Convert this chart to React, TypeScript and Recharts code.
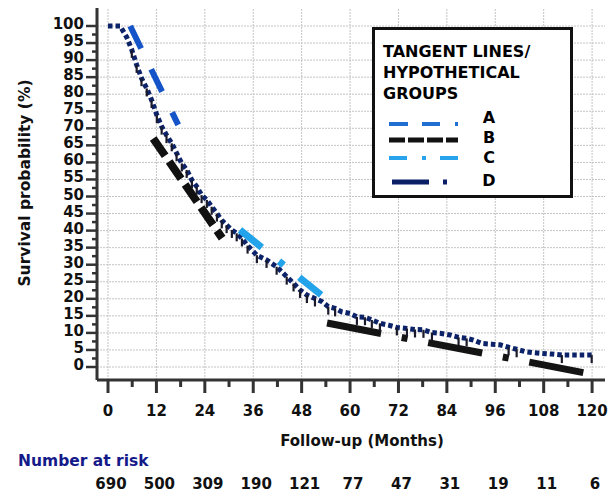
import React from 'react'
import { LineChart, Line, XAxis, YAxis, ReferenceLine } from 'recharts'

const FONT = '"DejaVu Sans", "Liberation Sans", sans-serif'

// Kaplan-Meier curve
const kmMonths = [0, 3, 4.6, 5.9, 7.1, 8.3, 9.6, 10.8, 12.1, 13.3, 14.5, 15.8, 17, 18.3, 19.5, 20.8, 22, 23.2, 24.5, 25.7, 27, 28.2, 29.4, 30.7, 31.9, 33.2, 34.6, 36.9, 39.3, 41.8, 44.3, 46, 47.6, 49.3, 51.3, 53, 54.6, 56.3, 57.9, 60, 61.7, 63.7, 65.4, 67.4, 69.5, 71.6, 74.1, 76.1, 78.2, 80.3, 82.3, 84.8, 86.9, 88.9, 90.6, 92.7, 95.1, 97.2, 99.3, 101.3, 103.4, 105.5, 107.5, 110, 112.5, 114.6, 117, 119.9]
const kmSurvival = [100, 100, 96.8, 93, 88.6, 84.7, 81.7, 78.3, 73.9, 70.5, 68, 65.6, 62.7, 59.7, 57.8, 54.8, 52.9, 50.4, 49, 47, 45, 43, 41.6, 40.2, 39.2, 37.7, 35.6, 32.8, 31.4, 29.4, 26.5, 24.5, 22.6, 21.1, 20.1, 19.2, 17.7, 17.2, 16.2, 15.7, 14.7, 14.6, 13.8, 12.8, 12.3, 11.6, 11.3, 11, 10.9, 10.1, 9.9, 9.4, 8.7, 8.4, 7.9, 6.9, 6.7, 6.5, 5.8, 5.2, 4.5, 4.2, 4, 3.8, 3.5, 3.5, 3.5, 3.5]
// 1 = censoring tick under the point
const kmCensored = [0, 0, 0, 1, 1, 1, 1, 1, 1, 1, 1, 1, 1, 1, 1, 1, 1, 1, 1, 1, 1, 1, 1, 1, 1, 1, 1, 1, 1, 1, 1, 1, 1, 1, 1, 0, 1, 1, 0, 0, 1, 1, 1, 1, 0, 1, 1, 1, 1, 1, 0, 0, 1, 1, 0, 0, 0, 0, 1, 1, 0, 0, 0, 0, 1, 0, 0, 1]

// tangent lines (start / end)
const tangentA = [{ m: 5.5, s: 100 }, { m: 17.4, s: 71 }]
const tangentB = [{ m: 11.2, s: 67 }, { m: 28.3, s: 37.8 }]
const tangentC = [{ m: 32.7, s: 40.2 }, { m: 53, s: 21 }]
const tangentD = [{ m: 54.3, s: 12.9 }, { m: 118.5, s: -1.8 }]

const xMajorTicks = [0, 12, 24, 36, 48, 60, 72, 84, 96, 108, 120]
const xMinorTicks = [6, 18, 30, 42, 54, 66, 78, 90, 102, 114]
const yMajorTicks = [0, 5, 10, 15, 20, 25, 30, 35, 40, 45, 50, 55, 60, 65, 70, 75, 80, 85, 90, 95, 100]
const yMinorTicks = [2.5, 7.5, 12.5, 17.5, 22.5, 27.5, 32.5, 37.5, 42.5, 47.5, 52.5, 57.5, 62.5, 67.5, 72.5, 77.5, 82.5, 87.5, 92.5, 97.5]
const riskCounts = [690, 500, 309, 190, 121, 77, 47, 31, 19, 11, 6]

const kmData = kmMonths.map((m, i) => ({ m, s: kmSurvival[i], c: kmCensored[i] }))
const xTicks = [...xMajorTicks, ...xMinorTicks].sort((a, b) => a - b)
const yTicks = [...yMajorTicks, ...yMinorTicks].sort((a, b) => a - b)

const AXIS = '#333'
const textStyle = { fontFamily: FONT, fontWeight: 'bold' as const, fontSize: 15, fill: '#111' }

function XTick({ x, y, payload }: any) {
  const v = payload.value
  const i = xMajorTicks.indexOf(v)
  const major = i >= 0
  return (
    <g>
      <line x1={x} x2={x} y1={y} y2={y + (major ? 13 : 7)} stroke={AXIS} strokeWidth={3} />
      {major && <text x={x} y={y + 36} textAnchor="middle" {...textStyle}>{v}</text>}
      {major && <text x={x + 3} y={y + 109} textAnchor="middle" {...textStyle}>{riskCounts[i]}</text>}
    </g>
  )
}

function YTick({ x, y, payload }: any) {
  const v = payload.value
  const major = yMajorTicks.includes(v)
  return (
    <g>
      <line x1={x} x2={x - (major ? 11 : 5)} y1={y} y2={y} stroke={AXIS} strokeWidth={2.5} />
      {major && <text x={x - 13} y={y + 3} textAnchor="end" {...textStyle}>{v}</text>}
    </g>
  )
}

function CensorDot({ cx, cy, payload, index }: any) {
  if (!payload.c) return <g key={index} />
  return <line key={index} x1={cx} x2={cx} y1={cy} y2={cy + 8} stroke="#1a1a2a" strokeWidth={2.2} />
}

function Legend() {
  const t = { fontFamily: FONT, fontWeight: 'bold' as const, fill: '#000' }
  return (
    <svg width={201} height={171} style={{ position: 'absolute', left: 372, top: 27 }}>
      <rect x={1.5} y={1.5} width={198} height={168} fill="#fff" stroke="#111" strokeWidth={3} />
      <text x={11} y={30} fontSize={16} {...t}>TANGENT LINES/</text>
      <text x={11} y={51} fontSize={16} {...t}>HYPOTHETICAL</text>
      <text x={11} y={72} fontSize={16} {...t}>GROUPS</text>
      <line x1={17} x2={86} y1={97} y2={97} stroke="#1f6fd0" strokeWidth={4} strokeDasharray="19 14 18 15 3 40" />
      <line x1={17} x2={86} y1={113} y2={113} stroke="#111" strokeWidth={5} strokeDasharray="16 3" />
      <line x1={17} x2={86} y1={131} y2={131} stroke="#29a3ec" strokeWidth={4} strokeDasharray="18 15 4 14 18 40" />
      <line x1={20} x2={76} y1={155} y2={155} stroke="#0b1f66" strokeWidth={5} strokeDasharray="37 14 4 40" />
      <text x={117} y={96} fontSize={16} textAnchor="middle" {...t}>A</text>
      <text x={117} y={116} fontSize={16} textAnchor="middle" {...t}>B</text>
      <text x={117} y={136} fontSize={16} textAnchor="middle" {...t}>C</text>
      <text x={117} y={159} fontSize={16} textAnchor="middle" {...t}>D</text>
    </svg>
  )
}

export default function App() {
  return (
    <div style={{ position: 'absolute', left: 0, top: 0, width: 613, height: 495, background: '#fff' }}>
      <LineChart width={613} height={495} margin={{ top: 8, right: 8, bottom: 0, left: 0 }}>
        <XAxis
          dataKey="m"
          type="number"
          domain={[-2.73, 123.2]}
          allowDataOverflow
          ticks={xTicks}
          interval={0}
          tick={<XTick />}
          tickLine={false}
          tickSize={0}
          tickMargin={0}
          height={115}
          axisLine={{ stroke: AXIS, strokeWidth: 3 }}
          label={({ viewBox }: any) => (
            <text x={viewBox.x + viewBox.width / 2 + 11} y={viewBox.y + 66} textAnchor="middle" {...textStyle}>
              Follow-up (Months)
            </text>
          )}
        />
        <YAxis
          type="number"
          domain={[-3.81, 105.28]}
          allowDataOverflow
          ticks={yTicks}
          interval={0}
          tick={<YTick />}
          tickLine={false}
          tickSize={0}
          tickMargin={0}
          width={97}
          axisLine={{ stroke: AXIS, strokeWidth: 3 }}
          label={({ viewBox }: any) => {
            const cx = 30
            const cy = viewBox.y + viewBox.height / 2 - 11
            return (
              <text x={cx} y={cy} transform={`rotate(-90 ${cx} ${cy})`} textAnchor="middle" {...textStyle} fontSize={15.5}>
                Survival probability (%)
              </text>
            )
          }}
        />

        {/* dotted grid */}
        {xMajorTicks.map(v => (
          <ReferenceLine key={'gx' + v} x={v} stroke="#c4c4c4" strokeDasharray="2 1" />
        ))}
        {yMajorTicks.map(v => (
          <ReferenceLine key={'gy' + v} y={v} stroke="#c4c4c4" strokeDasharray="2 1" />
        ))}

        <Line data={kmData} dataKey="s" stroke="#0c2369" strokeWidth={5} strokeDasharray="4.5 3"
          dot={CensorDot} activeDot={false} isAnimationActive={false} />

        <Line data={tangentA} dataKey="s" stroke="#1554c8" strokeWidth={6} strokeDasharray="25 23"
          dot={false} activeDot={false} isAnimationActive={false} />
        <Line data={tangentB} dataKey="s" stroke="#111" strokeWidth={8} strokeDasharray="21 7"
          dot={false} activeDot={false} isAnimationActive={false} />
        <Line data={tangentC} dataKey="s" stroke="#22a3ea" strokeWidth={7} strokeDasharray="28 22 6 20"
          dot={false} activeDot={false} isAnimationActive={false} />
        <Line data={tangentD} dataKey="s" stroke="#141414" strokeWidth={7} strokeDasharray="55 21 6 21"
          dot={false} activeDot={false} isAnimationActive={false} />
      </LineChart>

      <Legend />
      <div style={{ position: 'absolute', left: 18, top: 452, fontFamily: FONT, fontWeight: 'bold', fontSize: 15.5, color: '#151a8a', lineHeight: '18px', whiteSpace: 'nowrap' }}>
        Number at risk
      </div>
    </div>
  )
}
